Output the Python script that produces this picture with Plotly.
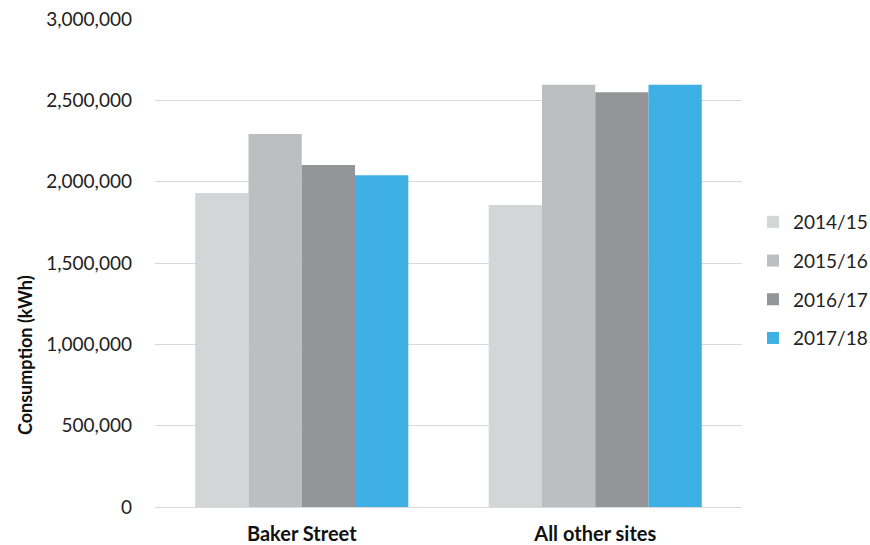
import plotly.graph_objects as go

categories = ["Baker Street", "All other sites"]
series_names = ["2014/15", "2015/16", "2016/17", "2017/18"]
values_2014 = [1930000, 1857000]
values_2015 = [2293000, 2596000]
values_2016 = [2102000, 2549000]
values_2017 = [2039000, 2596000]
colors = ["#D4D5D7", "#BDBEC0", "#939598", "#3FB0E3"]
y_ticks = [0, 500000, 1000000, 1500000, 2000000, 2500000, 3000000]

FONT = "Lato"

fig = go.Figure()
for name, vals, col in zip(series_names, [values_2014, values_2015, values_2016, values_2017], colors):
    fig.add_trace(go.Bar(
        x=categories, y=vals, name=name, legendgroup=name,
        marker=dict(color=col, line=dict(width=0)),
    ))

fig.update_layout(
    width=870, height=545,
    margin=dict(l=155, r=128, t=19, b=38, autoexpand=False),
    paper_bgcolor="white", plot_bgcolor="white",
    barmode="group", bargap=0.274, bargroupgap=0,
    font=dict(family=FONT, size=19, color="#222222"),
    legend=dict(
        xref="container", yref="container",
        x=753 / 870, xanchor="left", y=1 - 280 / 545, yanchor="middle",
        font=dict(family=FONT, size=19, color="#222222"),
        tracegroupgap=11, bgcolor="rgba(0,0,0,0)",
    ),
    xaxis=dict(
        automargin=False,
        showgrid=False, showline=False, ticks="",
        tickfont=dict(family=FONT, size=20, color="#111111", weight="bold"),
        ticklabelstandoff=13,
    ),
    yaxis=dict(
        automargin=False,
        range=[0, 3000000], tickvals=y_ticks, tickformat=",d",
        showgrid=True, gridcolor="#D9D9D9", gridwidth=1.3,
        zeroline=True, zerolinecolor="#D9D9D9", zerolinewidth=1.3,
        showline=False, ticks="", ticklabelstandoff=22,
        tickfont=dict(family=FONT, size=19, color="#222222"),
    ),
    annotations=[dict(
        text="Consumption (kWh)", textangle=-90, showarrow=False,
        xref="paper", yref="paper", x=-(155 - 25) / 587, y=(507 - 355) / 488,
        xanchor="center", yanchor="middle",
        font=dict(family=FONT, size=18, color="#111111", weight="bold"),
    )],
)

fig.write_html("out.html")
